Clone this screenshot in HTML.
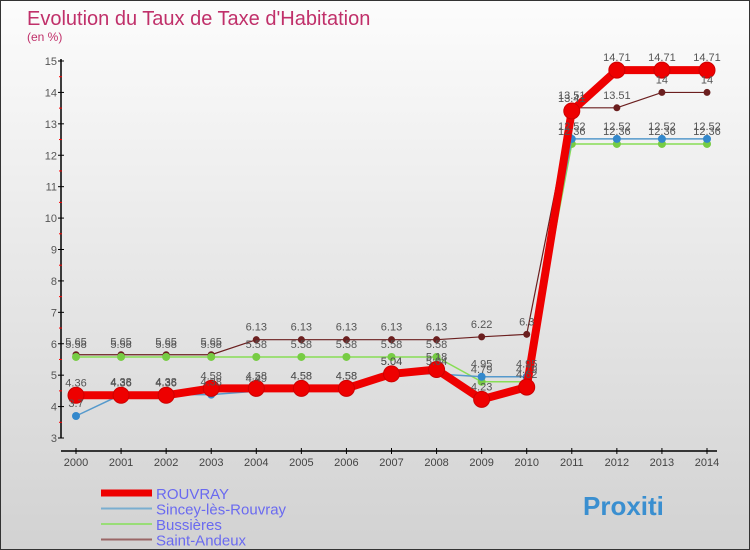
<!DOCTYPE html>
<html><head><meta charset="utf-8"><style>
body{margin:0}
#wrap{width:750px;height:550px;position:relative;overflow:hidden;background:linear-gradient(#fcfcfc,#d2d2d2);font-family:"Liberation Sans",sans-serif;box-sizing:border-box;border:1px solid #333}
</style></head><body>
<div id="wrap">
<svg id="c" width="750" height="550">
<text x="26" y="24" font-size="20" fill="#c0306a">Evolution du Taux de Taxe d'Habitation</text>
<text x="26" y="40" font-size="12" fill="#c0306a">(en %)</text>
</svg>
</div>
<script>
const years=[2000,2001,2002,2003,2004,2005,2006,2007,2008,2009,2010,2011,2012,2013,2014];
const yTicks=[3,4,5,6,7,8,9,10,11,12,13,14,15];
const rouvray=[4.36,4.36,4.36,4.58,4.58,4.58,4.58,5.04,5.18,4.23,4.62,13.41,14.71,14.71,14.71];
const sincey=[3.7,4.38,4.38,4.38,4.49,4.58,4.58,5.04,5.04,4.95,4.95,12.52,12.52,12.52,12.52];
const bussieres=[5.58,5.58,5.58,5.58,5.58,5.58,5.58,5.58,5.58,4.79,4.79,12.36,12.36,12.36,12.36];
const andeux=[5.65,5.65,5.65,5.65,6.13,6.13,6.13,6.13,6.13,6.22,6.3,13.51,13.51,14,14];
const NS="http://www.w3.org/2000/svg",svg=document.getElementById('c');
const X=i=>75+i*(706-75)/(years.length-1);
const Y=v=>437-(v-3)*(437-60)/12;
function el(t,a,p){const e=document.createElementNS(NS,t);for(const k in a)e.setAttribute(k,a[k]);(p||svg).appendChild(e);return e;}
// axes
let ax=el('line',{x1:60,y1:58,x2:60,y2:437,stroke:'#000','stroke-width':1.5});


let xa=el('line',{x1:60,y1:450,x2:716,y2:450,stroke:'#000','stroke-width':1.5});


yTicks.forEach(v=>{
 el('line',{x1:57,x2:63,y1:Y(v),y2:Y(v),stroke:'#000'});
 if(v<15) el('line',{x1:58,x2:61,y1:Y(v+0.5),y2:Y(v+0.5),stroke:'#f00'});
 const t=el('text',{x:56,y:Y(v)+4,'text-anchor':'end','font-size':11,fill:'#555'});
 t.textContent=v;
 
 
});
years.forEach((yr,i)=>{
 el('line',{x1:X(i),x2:X(i),y1:447,y2:453,stroke:'#000'});
 const t=el('text',{x:X(i),y:465,'text-anchor':'middle','font-size':11,fill:'#444'});
 t.textContent=yr;
 
 
});
const series=[
 {d:andeux,c:'#6b1f1f',w:1.2,r:3.5,f:'#6b1f1f',n:'saint-andeux'},
 {d:bussieres,c:'#88dd55',w:1.5,r:4,f:'#77cc44',n:'bussieres'},
 {d:sincey,c:'#5599cc',w:1.5,r:4,f:'#3388cc',n:'sincey-les-rouvray'},
 {d:rouvray,c:'#ee0000',w:8,r:8,f:'#ee0000',n:'rouvray'}
];
series.forEach(s=>{
 const g=el('g',{});
 
 
 el('polyline',{points:s.d.map((v,i)=>X(i)+','+Y(v)).join(' '),fill:'none',stroke:s.c,'stroke-width':s.w},g);
 s.d.forEach((v,i)=>{
  const p=el('circle',{cx:X(i),cy:Y(v),r:s.r,fill:s.f,stroke:s.n=='rouvray'?'#cc0000':'none'},g);
  
  
 });
});
// inner markers for rouvray on top of sincey
series.forEach(s=>{
 s.d.forEach((v,i)=>{
  const t=el('text',{x:X(i),y:Y(v)-9,'text-anchor':'middle','font-size':11,fill:'#555'});
  t.textContent=String(v);
  
  
 });
});
// legend
const leg=[['ROUVRAY','#ee0000',7],['Sincey-lès-Rouvray','#7aaed0',2],['Bussières','#99dd77',2],['Saint-Andeux','#9a6666',2]];
leg.forEach((l,i)=>{
 const y=492+i*15.5;
 const g=el('g',{});
 
 
 el('line',{x1:100,x2:151,y1:y,y2:y,stroke:l[1],'stroke-width':l[2]},g);
 const t=el('text',{x:155,y:y+6,'font-size':15,fill:'#6a6af0'},g);
 t.textContent=l[0];
});
const p=el('text',{x:582,y:514,'font-size':26,'font-weight':'bold',fill:'#3a8fd0'});
p.textContent='Proxiti';


</script>
</body></html>
